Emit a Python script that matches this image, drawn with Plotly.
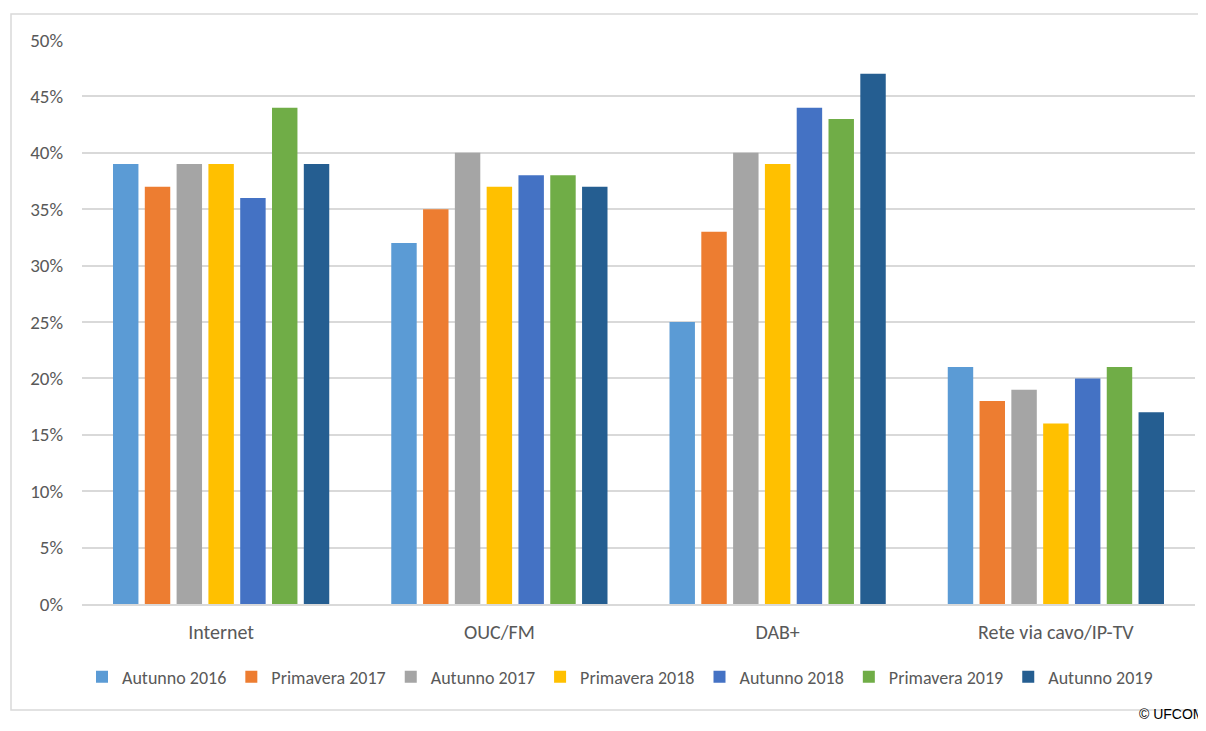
import plotly.graph_objects as go

categories = ["Internet", "OUC/FM", "DAB+", "Rete via cavo/IP-TV"]
series_names = ["Autunno 2016", "Primavera 2017", "Autunno 2017", "Primavera 2018",
                "Autunno 2018", "Primavera 2019", "Autunno 2019"]
values = {
    "Autunno 2016":   [0.39, 0.32, 0.25, 0.21],
    "Primavera 2017": [0.37, 0.35, 0.33, 0.18],
    "Autunno 2017":   [0.39, 0.40, 0.40, 0.19],
    "Primavera 2018": [0.39, 0.37, 0.39, 0.16],
    "Autunno 2018":   [0.36, 0.38, 0.44, 0.20],
    "Primavera 2019": [0.44, 0.38, 0.43, 0.21],
    "Autunno 2019":   [0.39, 0.37, 0.47, 0.17],
}
colors = ["#5B9BD5", "#ED7D31", "#A5A5A5", "#FFC000", "#4472C4", "#70AD47", "#255E91"]
y_ticks = [0, 0.05, 0.10, 0.15, 0.20, 0.25, 0.30, 0.35, 0.40, 0.45, 0.50]

OFF = 8  # page body margin
W, H = 1206 - OFF, 731 - 2 * OFF
L, R, T = 82 - OFF, 11, 40 - OFF
B = H - (604 - OFF)
pw, ph = W - L - R, H - T - B

def px_x(x):  # reference pixel -> paper
    return (x - OFF - L) / pw

def px_y(y):
    return (H - B - (y - OFF)) / ph

fig = go.Figure()
for name, col in zip(series_names, colors):
    fig.add_trace(go.Bar(x=categories, y=values[name], name=name,
                         marker=dict(color=col, line=dict(width=0))))

font_family = "Carlito, Lato, 'Open Sans', sans-serif"
fig.update_layout(
    width=W, height=H,
    margin=dict(l=L, r=R, t=T, b=B),
    paper_bgcolor="white", plot_bgcolor="white",
    barmode="group", bargap=0.2, bargroupgap=0.2,
    font=dict(family=font_family, color="#595959", size=19),
    xaxis=dict(showgrid=False, ticks="", showline=True, linecolor="#D9D9D9", linewidth=1.5,
               tickfont=dict(size=20, color="#595959"), ticklabelstandoff=9),
    yaxis=dict(range=[0, 0.5], tickvals=y_ticks, tickformat=".0%",
               showgrid=True, gridcolor="#D9D9D9", gridwidth=1.5,
               zeroline=False, showline=False, ticks="",
               tickfont=dict(size=19, color="#595959"), ticklabelstandoff=18),
    legend=dict(orientation="h", x=px_x(620), xanchor="center", y=px_y(677), yanchor="middle",
                font=dict(size=18, color="#595959"), itemwidth=30, traceorder="normal"),
    showlegend=True,
)

fig.add_shape(type="rect", xref="paper", yref="paper",
              x0=px_x(11), x1=px_x(1215), y0=px_y(710), y1=px_y(14),
              line=dict(color="#D9D9D9", width=1.5), fillcolor="rgba(0,0,0,0)", layer="below")

fig.add_annotation(text="© UFCOM", xref="paper", yref="paper",
                   x=px_x(1206), y=px_y(723), xanchor="right", yanchor="bottom",
                   showarrow=False, borderpad=0,
                   font=dict(family="Liberation Sans, Arial", size=14, color="black"))

fig.write_html("out.html")
